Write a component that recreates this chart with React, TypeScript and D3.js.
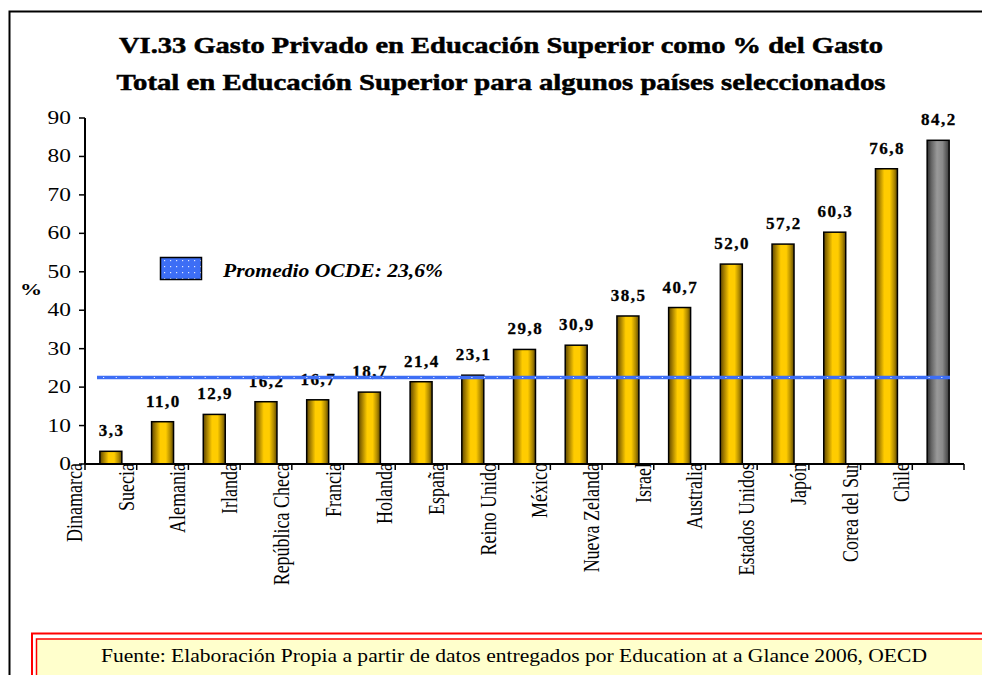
import React from "react";
import * as d3 from "d3";

const categories = [
  "Dinamarca", "Suecia", "Alemania", "Irlanda", "República Checa", "Francia",
  "Holanda", "España", "Reino Unido", "México", "Nueva Zelanda", "Israel",
  "Australia", "Estados Unidos", "Japón", "Corea del Sur", "Chile",
];
const values = [3.3, 11.0, 12.9, 16.2, 16.7, 18.7, 21.4, 23.1, 29.8, 30.9, 38.5, 40.7, 52.0, 57.2, 60.3, 76.8, 84.2];
const valueLabels = ["3,3", "11,0", "12,9", "16,2", "16,7", "18,7", "21,4", "23,1", "29,8", "30,9", "38,5", "40,7", "52,0", "57,2", "60,3", "76,8", "84,2"];
const yTicks = [0, 10, 20, 30, 40, 50, 60, 70, 80, 90];
const averageLineValue = 22.5;
const averageLabel = "Promedio OCDE: 23,6%";
const titleLines = [
  "VI.33 Gasto Privado en Educación Superior como % del Gasto",
  "Total en Educación Superior para algunos países seleccionados",
];
const sourceText = "Fuente: Elaboración Propia a partir de datos entregados por Education at a Glance 2006, OECD";

const W = 982;
const H = 675;
const FONT = "'Liberation Serif', 'Times New Roman', serif";

export default function App() {
  const x = d3.scaleBand<string>().domain(categories).range([85, 964]).paddingInner(0.575).paddingOuter(0.2875);
  const y = d3.scaleLinear().domain([0, 90]).range([464, 118]);
  const step = x.step();
  const bw = x.bandwidth();
  const x0 = x.range()[0];
  const boundaries = d3.range(categories.length + 1).map((k) => x0 + step * k);
  const keyOf = (i: number) => categories[i];
  const titleLengths = [764, 769];

  return (
    <div style={{ position: "absolute", left: 0, top: 0, width: W, height: H, overflow: "hidden", background: "#fff" }}>
      <svg width={W} height={H} style={{ display: "block" }} fontFamily={FONT}>
        <defs>
          <linearGradient id="gold" x1="0" x2="1" y1="0" y2="0">
            <stop offset="0" stopColor="#5e4700" />
            <stop offset="0.15" stopColor="#9c7800" />
            <stop offset="0.4" stopColor="#ffcc00" />
            <stop offset="0.65" stopColor="#ffcc00" />
            <stop offset="0.85" stopColor="#b08a00" />
            <stop offset="1" stopColor="#5e4700" />
          </linearGradient>
          <linearGradient id="grey" x1="0" x2="1" y1="0" y2="0">
            <stop offset="0" stopColor="#2e2e2e" />
            <stop offset="0.2" stopColor="#666" />
            <stop offset="0.45" stopColor="#999" />
            <stop offset="0.7" stopColor="#8a8a8a" />
            <stop offset="1" stopColor="#3a3a3a" />
          </linearGradient>
          <pattern id="dots" width="6" height="6" patternUnits="userSpaceOnUse">
            <rect width="6" height="6" fill="#3d6ef5" />
            <rect x="2" y="2" width="1.2" height="1.2" fill="#dfe8ff" />
          </pattern>
        </defs>

        {/* outer frame */}
        <rect x={9.5} y={11.5} width={1100} height={800} fill="none" stroke="#000" strokeWidth={2} />

        {/* title */}
        {titleLines.map((t, i) => (
          <text
            key={i}
            x={501}
            y={53 + i * 37}
            textAnchor="middle"
            fontSize={23}
            fontWeight="bold"
            fill="#000"
            stroke="#000"
            strokeWidth={0.5}
            textLength={titleLengths[i]}
            lengthAdjust="spacingAndGlyphs"
          >
            {t}
          </text>
        ))}

        {/* y axis */}
        <line x1={85} x2={85} y1={y(90)} y2={y(0)} stroke="#000" strokeWidth={2} />
        {yTicks.map((t) => (
          <g key={t}>
            <line x1={79} x2={85} y1={y(t)} y2={y(t)} stroke="#000" strokeWidth={1.5} />
            <text transform={`translate(71,${y(t) + 6}) scale(1.3,1)`} textAnchor="end" fontSize={18} fill="#000">{t}</text>
          </g>
        ))}
        <text transform="translate(31,295) scale(1.3,1)" textAnchor="middle" fontSize={17} fontWeight="bold">%</text>

        {/* bars */}
        {values.map((v, i) => (
          <rect
            key={i}
            x={x(keyOf(i))!}
            y={y(v)}
            width={bw}
            height={y(0) - y(v)}
            fill={i === values.length - 1 ? "url(#grey)" : "url(#gold)"}
            stroke="#000"
            strokeWidth={1.5}
          />
        ))}

        {/* value labels */}
        {values.map((v, i) => (
          <text
            key={i}
            x={x(keyOf(i))! + bw / 2 + 0.75}
            y={y(v) - 15}
            textAnchor="middle"
            fontSize={17}
            fontWeight="bold"
            letterSpacing={1.5}
            fill="#000"
            stroke="#000"
            strokeWidth={0.3}
          >
            {valueLabels[i]}
          </text>
        ))}

        {/* average line (drawn over bars and labels) */}
        <line x1={97} x2={950} y1={y(averageLineValue)} y2={y(averageLineValue)} stroke="#3d6ef5" strokeWidth={3.5} />
        <line x1={97} x2={950} y1={y(averageLineValue)} y2={y(averageLineValue)} stroke="#e6ecff" strokeWidth={1.2} strokeDasharray="1.2 11.5" strokeDashoffset={-6} />

        {/* x axis */}
        <line x1={85} x2={964} y1={y(0)} y2={y(0)} stroke="#000" strokeWidth={2} />
        {boundaries.map((b, k) => (
          <line key={k} x1={b} x2={b} y1={y(0)} y2={y(0) + 6} stroke="#000" strokeWidth={1.5} />
        ))}
        {categories.map((c, k) => (
          <text
            key={c}
            transform={`translate(${boundaries[k] - 3},${y(0) - 1}) rotate(-90) scale(1,1.25)`}
            textAnchor="end"
            fontSize={18}
            fill="#000"
          >
            {c}
          </text>
        ))}

        {/* legend */}
        <rect x={160.5} y={257.5} width={41} height={22} fill="url(#dots)" stroke="#000" strokeWidth={1.5} />
        <text
          x={223}
          y={277}
          fontSize={18}
          fontWeight="bold"
          fontStyle="italic"
          fill="#000"
          textLength={220}
          lengthAdjust="spacingAndGlyphs"
        >
          {averageLabel}
        </text>

        {/* source box */}
        <rect x={32} y={633.5} width={1000} height={80} fill="#fff" stroke="#f00" strokeWidth={2} />
        <rect x={36.5} y={639} width={1000} height={80} fill="#ffffcc" stroke="#f00" strokeWidth={1.5} />
        <text
          x={101}
          y={662}
          fontSize={18}
          fill="#000"
          textLength={826}
          lengthAdjust="spacingAndGlyphs"
        >
          {sourceText}
        </text>
      </svg>
    </div>
  );
}
